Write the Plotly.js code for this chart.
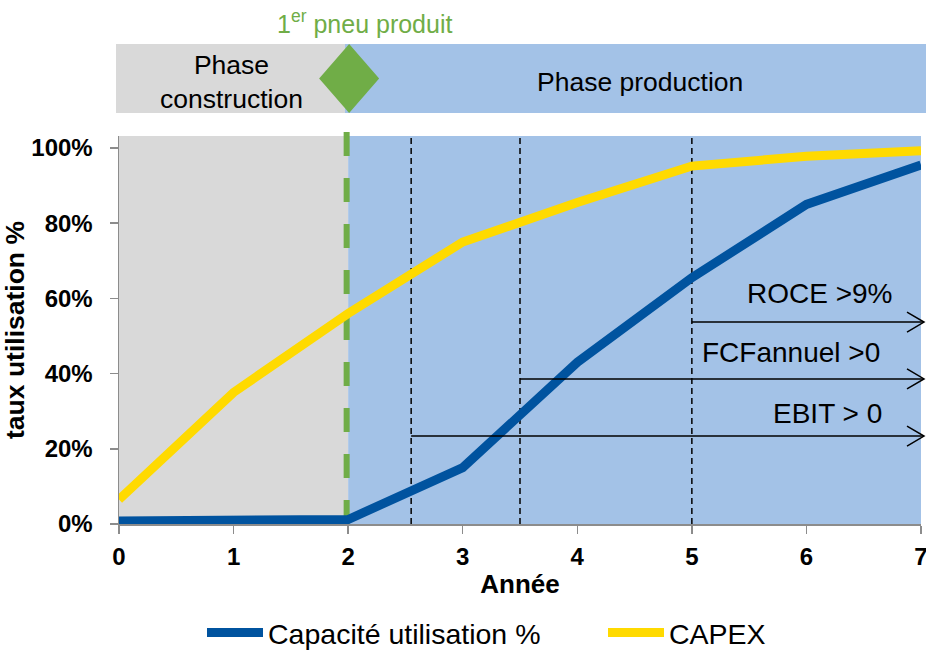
<!DOCTYPE html>
<html>
<head>
<meta charset="utf-8">
<script src="https://cdn.plot.ly/plotly-3.0.1.min.js"></script>
<style>html,body{margin:0;padding:0;background:#fff;}#chart{width:926px;height:651px;}</style>
</head>
<body>
<div id="chart"></div>
<script>
// ---- data ----
const years = [0, 1, 2, 3, 4, 5, 6, 7];
const capaciteUtilisation = [0.008, 0.008, 0.012, 0.15, 0.43, 0.655, 0.85, 0.955];
const capex = [0.065, 0.35, 0.56, 0.75, 0.855, 0.952, 0.978, 0.993];
const seriesNames = ['Capacité utilisation %', 'CAPEX'];
const xTickLabels = ['0', '1', '2', '3', '4', '5', '6', '7'];
const yTickValues = [0, 0.2, 0.4, 0.6, 0.8, 1.0];
const yTickLabels = ['0%', '20%', '40%', '60%', '80%', '100%'];

const firstTyreYear = 2;           // 1er pneu produit
const milestoneYears = [2.55, 3.5, 5];            // EBIT, FCF, ROCE
const milestoneLabels = ['EBIT > 0', 'FCFannuel >0', 'ROCE >9%'];
const milestoneArrowLevels = [0.234, 0.386, 0.537];
const milestoneLabelLevels = [0.295, 0.457, 0.614];
const milestoneLabelX = [6.18, 5.865, 6.118];

// ---- layout helpers ----
const W = 926, H = 651;
const M = {l: 119, r: 5, t: 136, b: 127, autoexpand: false};
const xRange = [0, 7];
const yRange = [0, 1.032];
const plotW = W - M.l - M.r, plotH = H - M.t - M.b;
const px2paperX = p => (p - M.l) / plotW;
const py2paperY = p => (H - M.b - p) / plotH;
const dataX2paper = v => (v - xRange[0]) / (xRange[1] - xRange[0]);
const dataY2paper = v => (v - yRange[0]) / (yRange[1] - yRange[0]);

const GRAY = '#D9D9D9', BLUEBG = '#A3C2E7', GREEN = '#70AD47';
const FONT = 'Liberation Sans, Arial, sans-serif';

const shapes = [];
// plot backgrounds: construction / production
shapes.push({type: 'rect', layer: 'below', xref: 'x', yref: 'paper', x0: xRange[0], x1: firstTyreYear, y0: 0, y1: 1, fillcolor: GRAY, line: {width: 0}});
shapes.push({type: 'rect', layer: 'below', xref: 'x', yref: 'paper', x0: firstTyreYear, x1: xRange[1], y0: 0, y1: 1, fillcolor: BLUEBG, line: {width: 0}});
// header band
const hTop = py2paperY(44), hBot = py2paperY(113);
shapes.push({type: 'rect', xref: 'paper', yref: 'paper', x0: px2paperX(116), x1: dataX2paper(firstTyreYear) - 0.004, y0: hBot, y1: hTop, fillcolor: GRAY, line: {width: 0}});
shapes.push({type: 'rect', xref: 'paper', yref: 'paper', x0: dataX2paper(firstTyreYear) - 0.004, x1: px2paperX(927), y0: hBot, y1: hTop, fillcolor: BLUEBG, line: {width: 0}});
// diamond
const dcx = dataX2paper(firstTyreYear) + 1 / plotW, dcy = (hTop + hBot) / 2;
const dhw = 30 / plotW, dhh = (hTop - hBot) / 2;
shapes.push({type: 'path', xref: 'paper', yref: 'paper',
  path: `M ${dcx - dhw},${dcy} L ${dcx},${dcy + dhh} L ${dcx + dhw},${dcy} L ${dcx},${dcy - dhh} Z`,
  fillcolor: GREEN, line: {width: 0}});
// green dashed line
shapes.push({type: 'line', layer: 'below', xref: 'paper', yref: 'paper', x0: dataX2paper(firstTyreYear) - 1.5 / plotW, x1: dataX2paper(firstTyreYear) - 1.5 / plotW,
  y0: 0, y1: py2paperY(120), line: {color: GREEN, width: 6, dash: '24px,22px'}});
// milestone dashed verticals
milestoneYears.forEach(v => shapes.push({type: 'line', layer: 'below', xref: 'x', yref: 'paper', x0: v, x1: v, y0: 0, y1: 1,
  line: {color: '#000', width: 1.5, dash: '6px,4px'}}));
// milestone arrows
const tipX = px2paperX(924), armDx = 17 / plotW, armDy = 10 / plotH;
milestoneYears.forEach((v, i) => {
  const y = dataY2paper(milestoneArrowLevels[i]);
  shapes.push({type: 'line', xref: 'paper', yref: 'paper', x0: dataX2paper(v), x1: tipX, y0: y, y1: y, line: {color: '#000', width: 1.5}});
  shapes.push({type: 'path', xref: 'paper', yref: 'paper',
    path: `M ${tipX - armDx},${y + armDy} L ${tipX},${y} L ${tipX - armDx},${y - armDy}`, line: {color: '#000', width: 1.5}});
});

const annotations = [];
const hdr = (x, y, text, size, color) => ({xref: 'paper', yref: 'paper', x: px2paperX(x), y: py2paperY(y), text: text,
  showarrow: false, xanchor: 'center', yanchor: 'middle', align: 'center', font: {family: FONT, size: size, color: color}});
annotations.push(hdr(231, 82, 'Phase<br>construction', 26.5, '#000'));
annotations.push(hdr(640, 82, 'Phase production', 26.5, '#000'));
annotations.push(hdr(364, 22, '1<sup>er</sup> pneu produit', 25, GREEN));
milestoneLabels.forEach((t, i) => annotations.push({xref: 'x', yref: 'y', x: milestoneLabelX[i], y: milestoneLabelLevels[i], text: t,
  showarrow: false, xanchor: 'center', yanchor: 'middle', font: {family: FONT, size: 28, color: '#000'}}));

const traces = [
  {x: years, y: capaciteUtilisation, name: seriesNames[0], type: 'scatter', mode: 'lines', line: {color: '#00539F', width: 9}},
  {x: years, y: capex, name: seriesNames[1], type: 'scatter', mode: 'lines', line: {color: '#FFDA00', width: 9}}
];

const axisColor = '#8C8C8C';
const layout = {
  width: W, height: H, margin: M,
  paper_bgcolor: '#fff', plot_bgcolor: 'rgba(0,0,0,0)',
  font: {family: FONT, color: '#000'},
  showlegend: true,
  legend: {orientation: 'h', x: px2paperX(202), xanchor: 'left', y: py2paperY(633), yanchor: 'middle',
    font: {family: FONT, size: 28.5, color: '#000'}, itemwidth: 56, entrywidth: 330, entrywidthmode: 'pixels',
    bgcolor: 'rgba(0,0,0,0)', tracegroupgap: 0},
  xaxis: {range: xRange, tickvals: years, ticktext: xTickLabels, showline: true, linecolor: axisColor, linewidth: 1.5,
    ticks: 'outside', ticklen: 8, tickcolor: axisColor, tickwidth: 1.5, showgrid: false, zeroline: false,
    ticklabeloverflow: 'allow', ticklabelstandoff: 3,
    tickfont: {family: FONT, size: 24, weight: 'bold', color: '#000'},
    title: {text: 'Année', font: {family: FONT, size: 26, weight: 'bold', color: '#000'}, standoff: 5}},
  yaxis: {range: yRange, tickvals: yTickValues, ticktext: yTickLabels, showline: true, linecolor: axisColor, linewidth: 1.5,
    ticks: 'outside', ticklen: 8, tickcolor: axisColor, tickwidth: 1.5, showgrid: false, zeroline: false,
    ticklabelstandoff: 12,
    tickfont: {family: FONT, size: 24, weight: 'bold', color: '#000'},
    title: {text: 'taux utilisation %', font: {family: FONT, size: 26.5, weight: 'bold', color: '#000'}, standoff: 0}},
  shapes: shapes,
  annotations: annotations
};

Plotly.newPlot('chart', traces, layout, {staticPlot: true, displayModeBar: false});
</script>
</body>
</html>
